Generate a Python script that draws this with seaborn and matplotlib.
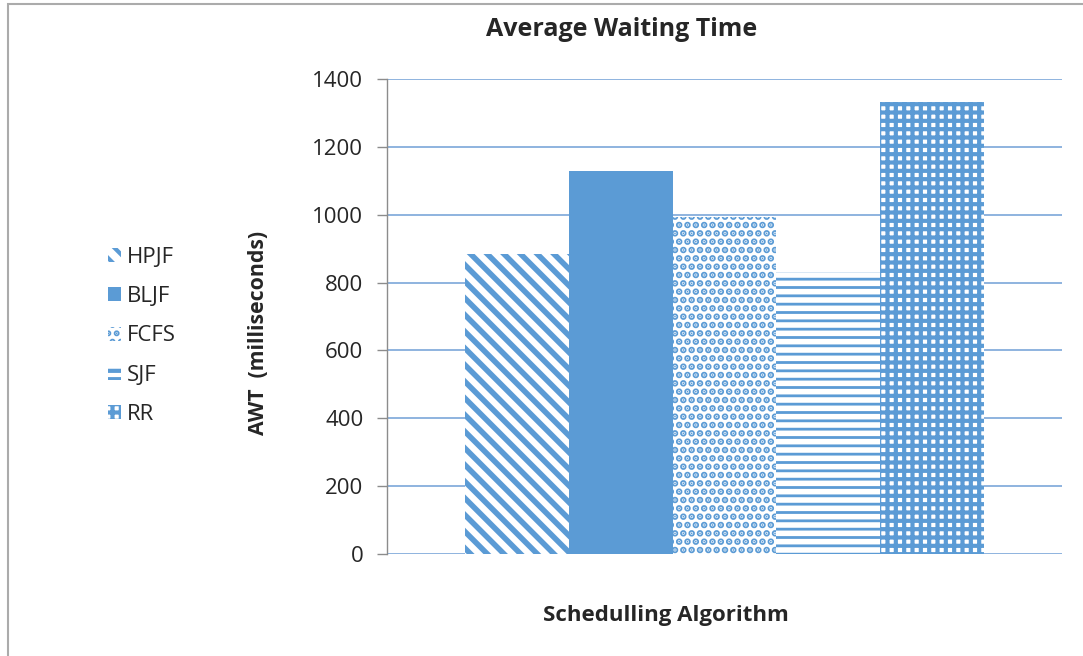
import matplotlib
matplotlib.use("Agg")
import matplotlib.pyplot as plt
from matplotlib.patches import Patch, Rectangle
import seaborn as sns
import pandas as pd

# Average waiting time per scheduling algorithm (ms)
algorithms = ["HPJF", "BLJF", "FCFS", "SJF", "RR"]
awt_ms = [884, 1129, 994, 832, 1332]
y_ticks = [0, 200, 400, 600, 800, 1000, 1200, 1400]
hatches = ["\\\\", "", "..", "--", "++"]

bar_blue = "#5B9BD5"
grid_blue = "#86AEDC"

sns.set_theme(style="white")
plt.rcParams["font.family"] = ["Open Sans", "DejaVu Sans"]
plt.rcParams["hatch.linewidth"] = 3.0

df = pd.DataFrame({"group": [""] * len(algorithms),
                   "algorithm": algorithms,
                   "awt": awt_ms})

fig = plt.figure(figsize=(10.83, 6.56), dpi=100)
ax = fig.add_axes([387 / 1083, 1 - 554 / 656, 675 / 1083, 475 / 656])

sns.barplot(data=df, x="group", y="awt", hue="algorithm",
            hue_order=algorithms, palette=[bar_blue] * len(algorithms),
            width=0.77, gap=0, dodge=True, legend=False, ax=ax,
            errorbar=None, saturation=1)

hatch_lw = [4.0, 0, 3.4, 2.0, 3.0]
for cont, h, lw in zip(ax.containers, hatches, hatch_lw):
    for bar in cont:
        if h:
            bar.set_facecolor("white")
            bar.set_edgecolor(bar_blue)
            bar.set_hatch(h)
            if hasattr(bar, "set_hatch_linewidth"):
                bar.set_hatch_linewidth(lw)
        else:
            bar.set_facecolor(bar_blue)
            bar.set_edgecolor(bar_blue)
        bar.set_linewidth(0)

ax.set_xlim(-0.5, 0.5)
ax.set_ylim(0, 1400)
ax.set_yticks(y_ticks)
ax.set_yticklabels([str(v) for v in y_ticks], fontsize=16)
ax.set_xticks([])
ax.set_xlabel("")
ax.set_ylabel("")
ax.yaxis.grid(True, color=grid_blue, linewidth=1.3)
ax.set_axisbelow(True)
ax.tick_params(axis="y", which="major", direction="out", length=7,
               width=1, color="#8C8C8C", pad=10, left=True)
for side in ["top", "right", "bottom"]:
    ax.spines[side].set_visible(False)
ax.spines["left"].set_color("#8C8C8C")
ax.spines["left"].set_linewidth(1)
ax.spines["left"].set_zorder(3)

# Titles
fig.text(622 / 1083, 1 - 30 / 656, "Average Waiting Time", ha="center",
         va="center", fontsize=18, fontweight="bold")
fig.text(666 / 1083, 1 - 616 / 656, "Schedulling Algorithm", ha="center",
         va="center", fontsize=16, fontweight="bold")
fig.text(258 / 1083, 1 - 333 / 656, "AWT  (milliseconds)", ha="center",
         va="center", rotation=90, fontsize=15.3, fontweight="bold")

# Legend
handles = []
for name, h, lw in zip(algorithms, hatches, hatch_lw):
    if h:
        p = Patch(facecolor="white", edgecolor=bar_blue, hatch=h, linewidth=0, label=name)
        if hasattr(p, "set_hatch_linewidth"):
            p.set_hatch_linewidth(lw)
    else:
        p = Patch(facecolor=bar_blue, edgecolor=bar_blue, linewidth=0, label=name)
    handles.append(p)
fig.legend(handles=handles, loc="upper left",
           bbox_to_anchor=(108 / 1083, 1 - 247 / 656), frameon=False,
           fontsize=16, handlelength=0.6, handleheight=0.6,
           handletextpad=0.25, labelspacing=0.82, borderaxespad=0,
           borderpad=0)

# Chart-area frame
fig.patches.append(Rectangle((8 / 1083, -0.1), 1.2, 1 - 4 / 656 + 0.1,
                             transform=fig.transFigure, fill=False,
                             edgecolor="#ABABAB", linewidth=1.5))

fig.savefig("out.png", dpi=100)
